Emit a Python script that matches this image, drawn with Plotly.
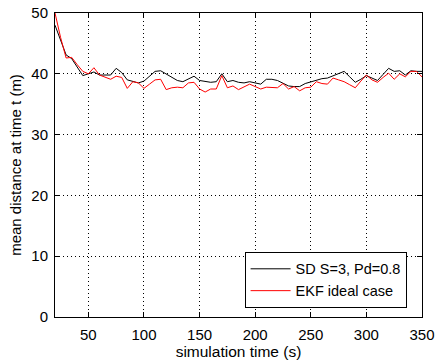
import plotly.graph_objects as go

time_s = list(range(20, 351, 5))

sd_s3_pd08 = [48.0, 45.5, 43.1, 42.5, 41.0, 39.7, 40.0, 40.3, 39.8, 39.8,
              39.8, 40.9, 40.2, 39.0, 38.7, 38.5, 38.8, 39.6, 40.4, 40.5,
              40.0, 39.5, 38.9, 38.7, 39.1, 39.6, 38.9, 38.8, 38.6, 38.7,
              40.0, 38.7, 38.9, 38.6, 38.5, 38.7, 38.5, 38.3, 39.1, 39.1,
              38.9, 38.5, 38.0, 37.9, 37.9, 38.4, 38.7, 39.0, 39.2, 39.3,
              39.7, 40.0, 40.4, 39.5, 38.6, 39.1, 39.7, 39.3, 38.9, 39.9,
              40.9, 40.4, 40.5, 39.8, 40.5, 40.4, 40.4]

ekf_ideal = [50.0, 46.0, 42.6, 42.7, 41.5, 40.4, 40.0, 41.0, 39.8, 39.4,
             39.1, 39.6, 39.4, 37.6, 38.7, 38.5, 37.6, 38.3, 39.0, 39.1,
             37.4, 37.7, 37.8, 37.7, 38.5, 38.6, 37.5, 37.0, 37.5, 37.5,
             39.7, 37.7, 38.0, 37.4, 37.9, 38.3, 37.9, 37.5, 37.8, 37.8,
             37.7, 38.4, 37.5, 37.9, 37.2, 37.7, 37.8, 38.7, 38.4, 38.3,
             39.3, 39.0, 38.7, 38.2, 37.7, 38.8, 39.8, 39.0, 38.6, 39.4,
             40.1, 39.1, 40.0, 39.5, 40.4, 40.4, 39.5]

x_ticks = [50, 100, 150, 200, 250, 300, 350]
y_ticks = [0, 10, 20, 30, 40, 50]

FONT = "Liberation Sans, Arial, sans-serif"

fig = go.Figure()
fig.add_trace(go.Scatter(x=time_s, y=sd_s3_pd08, mode="lines",
                         name="SD S=3, Pd=0.8",
                         line=dict(color="#000000", width=1)))
fig.add_trace(go.Scatter(x=time_s, y=ekf_ideal, mode="lines",
                         name="EKF ideal case",
                         line=dict(color="#ff0000", width=1)))

axis_common = dict(
    showline=True, linecolor="black", linewidth=1, mirror="ticks",
    ticks="inside", ticklen=5, tickcolor="black",
    showgrid=True, gridcolor="black", gridwidth=0.6, griddash="1px,3px",
    zeroline=False, automargin=False,
    tickfont=dict(family=FONT, size=15, color="black"),
)

fig.update_xaxes(range=[20, 350], tickvals=x_ticks, ticklabelstandoff=4,
                 title=dict(text="simulation time (s)", standoff=2,
                            font=dict(family=FONT, size=15.5, color="black")),
                 **axis_common)
fig.update_yaxes(range=[0, 50], tickvals=y_ticks, ticklabelstandoff=3,
                 title=dict(text="mean distance at time t (m)", standoff=6,
                            font=dict(family=FONT, size=15, color="black")),
                 **axis_common)

fig.update_layout(
    width=436, height=363,
    margin=dict(l=55, r=14, t=13, b=46),
    paper_bgcolor="white", plot_bgcolor="white",
    showlegend=True,
    legend=dict(x=0.958, y=0.03, xanchor="right", yanchor="bottom",
                bgcolor="white", bordercolor="black", borderwidth=1,
                font=dict(family=FONT, size=14.5, color="black"),
                tracegroupgap=0, itemwidth=40),
)

fig.write_html(
    "out.html",
    config={"displayModeBar": False},
    post_script="document.body.style.margin='0';document.body.style.overflow='hidden';",
)
